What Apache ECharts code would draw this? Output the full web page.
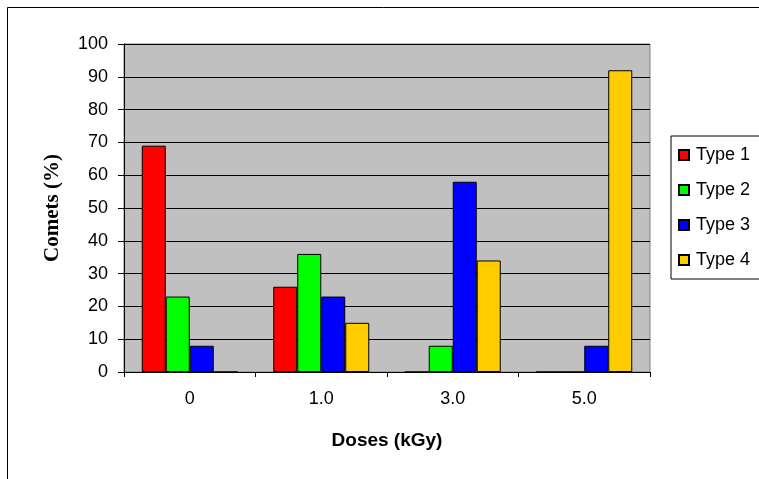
<!DOCTYPE html>
<html>
<head>
<meta charset="utf-8">
<script src="https://cdn.jsdelivr.net/npm/echarts@6/dist/echarts.min.js"></script>
<style>
html,body{margin:0;padding:0;background:#fff;}
#chart{width:759px;height:479px;}
</style>
</head>
<body>
<div id="chart"></div>
<script>
const categories = ['0', '1.0', '3.0', '5.0'];
const seriesNames = ['Type 1', 'Type 2', 'Type 3', 'Type 4'];
const type1 = [69, 26, 0, 0];
const type2 = [23, 36, 8, 0];
const type3 = [8, 23, 58, 8];
const type4 = [0, 15, 34, 92];
const yTicks = [0, 10, 20, 30, 40, 50, 60, 70, 80, 90, 100];

const colors = ['#FF0000', '#00FF00', '#0000FF', '#FFCC00'];
const allValues = [type1, type2, type3, type4];

const chart = echarts.init(document.getElementById('chart'), null, {renderer: 'canvas'});
const sans = '"Liberation Sans", Arial, sans-serif';
const serif = '"Liberation Serif", "Times New Roman", serif';

chart.setOption({
  animation: false,
  backgroundColor: '#ffffff',
  color: colors,
  graphic: [{
    type: 'rect',
    shape: {x: 7.5, y: 7.5, width: 800, height: 500},
    style: {fill: 'none', stroke: '#000', lineWidth: 1},
    silent: true,
    z: -10
  }],
  grid: {
    left: 124, right: 109, top: 44, bottom: 107,
    show: true, backgroundColor: '#C0C0C0', borderColor: '#808080', borderWidth: 1
  },
  legend: {
    orient: 'vertical',
    left: 671, top: 136,
    itemWidth: 10, itemHeight: 10, itemGap: 15,
    icon: 'rect',
    padding: [9, 40, 9, 7],
    backgroundColor: '#fff',
    borderColor: '#000', borderWidth: 1,
    textStyle: {fontFamily: sans, fontSize: 18, color: '#000', lineHeight: 20, padding: [0, 0, 0, 2]},
    data: seriesNames
  },
  xAxis: {
    type: 'category',
    data: categories,
    boundaryGap: true,
    axisLine: {lineStyle: {color: '#000', width: 1}},
    axisTick: {show: true, interval: 0, length: 5, lineStyle: {color: '#000'}},
    axisLabel: {fontFamily: sans, fontSize: 18, color: '#000', margin: 18},
    name: 'Doses (kGy)',
    nameLocation: 'middle',
    nameGap: 59,
    nameTextStyle: {fontFamily: sans, fontSize: 19, fontWeight: 'bold', color: '#000'}
  },
  yAxis: {
    type: 'value',
    min: yTicks[0], max: yTicks[yTicks.length - 1], interval: 10,
    axisLine: {show: true, lineStyle: {color: '#000', width: 1}},
    axisTick: {show: true, length: 6, lineStyle: {color: '#000'}},
    axisLabel: {fontFamily: sans, fontSize: 18, color: '#000', margin: 16},
    splitLine: {show: true, lineStyle: {color: '#000', width: 1}},
    name: 'Comets (%)',
    nameLocation: 'middle',
    nameGap: 61,
    nameRotate: 90,
    nameTextStyle: {fontFamily: serif, fontSize: 21, fontWeight: 'bold', color: '#000'}
  },
  series: seriesNames.map((n, i) => ({
    name: n,
    type: 'bar',
    data: allValues[i],
    barGap: '0%',
    barCategoryGap: '27%',
    itemStyle: {color: colors[i], borderColor: '#000', borderWidth: 1}
  }))
});
</script>
</body>
</html>
